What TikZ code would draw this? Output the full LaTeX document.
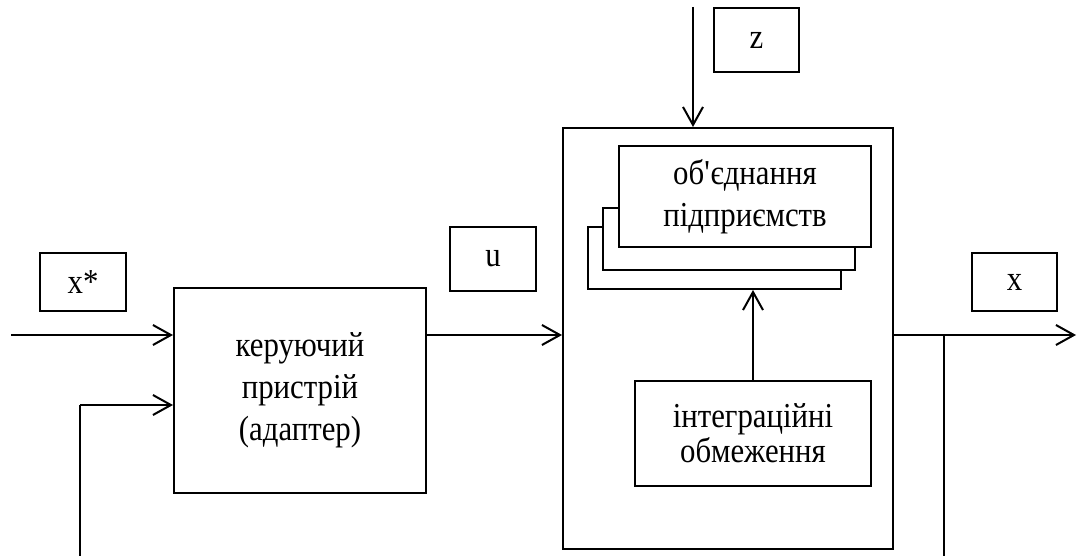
\documentclass[tikz,border=0pt]{standalone}
\usepackage{fontspec}
\setmainfont[FakeStretch=0.88]{Liberation Serif}
\usetikzlibrary{arrows.meta}
\tikzset{
  box/.style={draw, line width=2pt, fill=white, inner sep=0pt, align=center,
    font=\fontsize{35}{42}\selectfont},
  arr/.style={draw, line width=2pt, -{Straight Barb[length=18pt,width=20pt,line width=2pt]}},
  ln/.style={draw, line width=1.6pt}
}
\begin{document}
\begin{tikzpicture}[x=1pt, y=-1pt]
\useasboundingbox (0,0) rectangle (1078,556);

\node[box, minimum width=86pt, minimum height=58pt] (xs) at (83,282) {x*};
\node[box, minimum width=86pt, minimum height=64pt] (u) at (493,259) {u};
\node[box, minimum width=85pt, minimum height=64pt] (z) at (756.5,40) {z};
\node[box, minimum width=85pt, minimum height=58pt] (x) at (1014.5,282) {x};

\node[box, minimum width=252pt, minimum height=205pt] (ctrl) at (300,390.5) {керуючий\\пристрій\\(адаптер)};
\node[box, minimum width=330pt, minimum height=421pt] (sys) at (728,338.5) {};
\node[box, minimum width=253pt, minimum height=62pt] (back) at (714.5,258) {};
\node[box, minimum width=252pt, minimum height=62pt] (mid) at (729,239) {};
\node[box, minimum width=252pt, minimum height=101pt] (front) at (745,196.5) {об\textquotesingle єднання\\підприємств};
\node[box, minimum width=236pt, minimum height=105pt, font=\fontsize{35}{35}\selectfont] (lim) at (753,433.5) {інтеграційні\\обмеження};

\coordinate (xin) at (11,335);
\coordinate (fbb) at (80,556);
\coordinate (fbt) at (80,405);
\coordinate (zin) at (693,7);
\coordinate (xout) at (1076,335);
\coordinate (tap) at (944,335);
\coordinate (tapb) at (944,556);

\path[arr] (xin) -- (xin -| ctrl.west);
\path[ln] (fbb) -- (fbt);
\path[arr] (fbt) -- (fbt -| ctrl.west);
\path[arr] (ctrl.east |- xin) -- (xin -| sys.west);
\path[arr] (zin) -- (zin |- sys.north);
\path[arr] (lim.north) -- (lim.north |- back.south);
\path[arr] (sys.east |- xout) -- (xout);
\path[ln] (tap) -- (tapb);
\end{tikzpicture}
\end{document}
